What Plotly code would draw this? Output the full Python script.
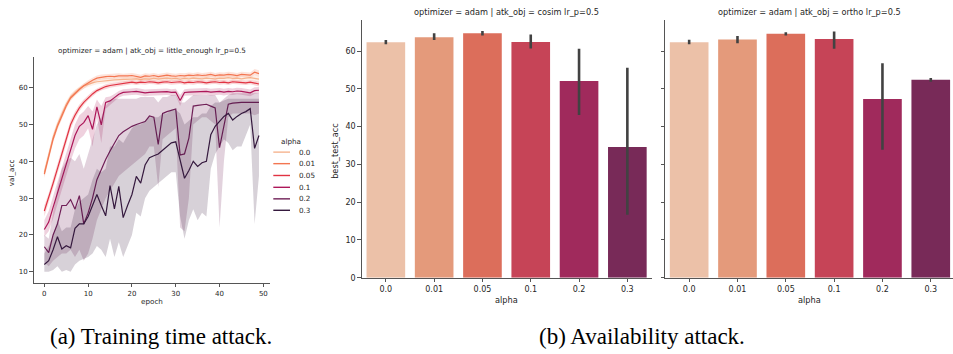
import plotly.graph_objects as go

# ---------------- data: (a) training time attack ----------------
epochs = list(range(50))
alpha_labels = ["0.0", "0.01", "0.05", "0.1", "0.2", "0.3"]
line_colors = ["#f6b48f", "#f37651", "#e13342", "#ad1759", "#701f57", "#35193e"]

val_00 = [37, 42, 46.5, 50, 53, 55.5, 57.5, 58.7, 59.7, 60.5, 61, 61.3, 61.6, 61.8, 62, 62, 62.1, 62.2, 62.3, 62.2,
          62.3, 62.4, 62.2, 62.4, 62.3, 62.5, 62.3, 62.4, 62.6, 62.4, 62.5, 62.3, 62.5, 62.4, 62.6, 62.5, 62.4, 62.6, 62.5, 62.4,
          62.6, 62.5, 62.7, 62.5, 62.6, 62.4, 62.6, 62.7, 62.5, 62.3]
lo_00 = [35.8, 40.5, 45.3, 49, 52, 54.6, 56.7, 58, 59, 59.8, 60.3, 60.6, 60.9, 61.1, 61.3, 61.3, 61.4, 61.5, 61.6, 61.5,
         61.6, 61.7, 61.5, 61.7, 61.6, 61.8, 61.6, 61.7, 61.9, 61.7, 61.8, 61.6, 61.8, 61.7, 61.9, 61.8, 61.7, 61.9, 61.8, 61.7,
         61.9, 61.8, 62, 61.8, 61.9, 61.7, 61.9, 62, 61.8, 61.6]
hi_00 = [38.2, 43.4, 47.7, 51, 54, 56.4, 58.3, 59.4, 60.4, 61.2, 61.7, 62, 62.3, 62.5, 62.7, 62.7, 62.8, 62.9, 63, 62.9,
         63, 63.1, 62.9, 63.1, 63, 63.2, 63, 63.1, 63.3, 63.1, 63.2, 63, 63.2, 63.1, 63.3, 63.2, 63.1, 63.3, 63.2, 63.1,
         63.3, 63.2, 63.4, 63.2, 63.3, 63.1, 63.3, 63.4, 63.2, 63]

val_01 = [36.5, 41.5, 46, 49.5, 52.5, 55, 57.2, 58.5, 59.5, 60.5, 61.3, 62, 62.6, 62.9, 63, 63.1, 63, 63.2, 63.1, 63.2,
          63.3, 63.1, 62.8, 63.2, 63.1, 63.3, 63, 63.2, 63.4, 63.2, 63.1, 63.3, 63.2, 63.4, 63.3, 63.5, 63.3, 63.4, 63.6, 63.3,
          63.5, 63.4, 63.6, 63.5, 63.3, 63.6, 63.5, 63.4, 64.2, 63.8]
lo_01 = [35.5, 40.6, 45, 48.6, 51.6, 54.2, 56.4, 57.8, 58.8, 59.8, 60.6, 61.3, 61.9, 62.2, 62.3, 62.4, 62.3, 62.5, 62.4, 62.5,
         62.6, 62.4, 62.1, 62.5, 62.4, 62.6, 62.3, 62.5, 62.7, 62.5, 62.4, 62.6, 62.5, 62.7, 62.6, 62.8, 62.6, 62.7, 62.9, 62.6,
         62.8, 62.7, 62.9, 62.8, 62.6, 62.9, 62.8, 62.7, 63.3, 62.9]
hi_01 = [37.5, 42.4, 47, 50.4, 53.4, 55.8, 58, 59.2, 60.2, 61.2, 62, 62.7, 63.3, 63.6, 63.7, 63.8, 63.7, 63.9, 63.8, 63.9,
         64, 63.8, 63.5, 63.9, 63.8, 64, 63.7, 63.9, 64.1, 63.9, 63.8, 64, 63.9, 64.1, 64, 64.2, 64, 64.1, 64.3, 64,
         64.2, 64.1, 64.3, 64.2, 64, 64.3, 64.2, 64.1, 65.1, 64.7]

val_05 = [26.5, 30, 34, 38, 42, 46, 50, 52.5, 54.5, 56, 57.3, 58.3, 59.2, 59.8, 60.3, 60.6, 60.8, 61, 61.2, 61.3,
          61.5, 61.3, 61.5, 61.4, 61.6, 61.5, 61.3, 61.5, 61.6, 61.4, 61.5, 61.6, 61.3, 61.5, 61.4, 61.6, 61.5, 61.3, 61.5, 61.6,
          61.4, 61.5, 61.3, 61.6, 61.5, 61.4, 61.3, 61.5, 61.2, 61.0]
lo_05 = [25, 28.7, 32.6, 36.6, 40.6, 44.6, 48.8, 51.5, 53.6, 55.2, 56.6, 57.6, 58.6, 59.2, 59.7, 60, 60.2, 60.4, 60.6, 60.7,
         60.9, 60.7, 60.9, 60.8, 61, 60.9, 60.7, 60.9, 61, 60.8, 60.9, 61, 60.7, 60.9, 60.8, 61, 60.9, 60.7, 60.9, 61,
         60.8, 60.9, 60.7, 61, 60.9, 60.8, 60.7, 60.9, 60.6, 60.3]
hi_05 = [28, 31.3, 35.4, 39.4, 43.4, 47.4, 51.2, 53.5, 55.4, 56.8, 58, 59, 59.8, 60.4, 60.9, 61.2, 61.4, 61.6, 61.8, 61.9,
         62.1, 61.9, 62.1, 62, 62.2, 62.1, 61.9, 62.1, 62.2, 62, 62.1, 62.2, 61.9, 62.1, 62, 62.2, 62.1, 61.9, 62.1, 62.2,
         62, 62.1, 61.9, 62.2, 62.1, 62, 61.9, 62.1, 61.8, 61.7]

val_10 = [21.5, 23.5, 27.5, 31.5, 35.5, 39.5, 43.5, 47, 49.5, 50.5, 52.4, 48.7, 54.8, 49.9, 56, 56.4, 57.3, 58.2, 58.7, 58.9,
          58.9, 59, 58.8, 58.6, 58.7, 58.8, 58.7, 58.8, 58.9, 58.7, 58.8, 56.5, 58.7, 58.8, 58.9, 58.8, 58.9, 59, 58.8, 58.9,
          59, 58.8, 59, 58.9, 59.1, 59, 58.9, 58.6, 59.2, 59.3]
lo_10 = [19.5, 21, 24.5, 28.5, 32.5, 36.5, 40, 43.5, 46, 47, 49, 44, 52, 45, 54.2, 55.3, 56.3, 57.3, 57.8, 58,
         58, 58.1, 57.9, 57.7, 57.8, 57.9, 57.8, 57.9, 58, 57.8, 57.9, 55, 57.8, 57.9, 58, 57.9, 58, 58.1, 57.9, 58,
         58.1, 57.9, 58.1, 58, 58.2, 58.1, 58, 57.7, 58.3, 58.4]
hi_10 = [24, 26.5, 30.5, 34.5, 38.5, 42.5, 46.5, 50, 52.5, 53.5, 55, 53.5, 56.8, 55, 57.4, 57.6, 58.3, 59.1, 59.6, 59.8,
         59.8, 59.9, 59.7, 59.5, 59.6, 59.7, 59.6, 59.7, 59.8, 59.6, 59.7, 58, 59.6, 59.7, 59.8, 59.7, 59.8, 59.9, 59.7, 59.8,
         59.9, 59.7, 59.9, 59.8, 60, 59.9, 59.8, 59.5, 60.1, 60.2]

val_20 = [16.8, 15.2, 20, 23, 28, 28, 29.6, 27, 30.7, 23, 26, 30, 35, 38, 40.5, 42.8, 45, 47, 48, 48.8,
          49.5, 50, 50.5, 50.8, 52.3, 52, 44.6, 53, 53.5, 53.8, 54.2, 41.7, 42, 46.3, 55, 55.2, 55.4, 55.5, 55, 54.5,
          43.7, 50, 55.5, 55.8, 56, 56, 56, 56, 55.8, 56]
lo_20 = [12.5, 11.5, 13, 14, 15, 15, 16, 14, 16, 13, 15, 19, 24, 27, 30, 32, 34, 36, 37, 38,
         39, 40, 41, 42, 44, 44, 33, 46, 47, 48, 49, 22, 21, 30, 50, 51, 52, 52, 51, 50,
         22, 40, 52, 53, 53, 53, 53, 53, 52.5, 53]
hi_20 = [20, 19, 26, 33, 38, 40, 41, 40, 42, 38, 42, 46, 50, 52, 55, 56.5, 57, 57, 57, 57,
         57, 57, 57.5, 57.5, 57.5, 57.5, 56, 57.5, 57.5, 58, 58, 56, 56, 57, 58, 58, 58, 58, 58, 58,
         56, 57, 58, 58.5, 58.5, 58.5, 58.5, 58.5, 58.5, 58.5]

val_30 = [12, 13, 16, 19.5, 16.2, 17.1, 16.5, 21.8, 23, 23, 25, 28, 31, 28, 25.2, 33.4, 27.1, 33.2, 24.7, 28,
          31, 35.9, 34.1, 39, 41, 41.5, 42, 43, 44, 45, 45.3, 40, 35.4, 37.5, 40, 38.6, 39.6, 40, 47.2, 49.5,
          51, 52.2, 53, 51.2, 52.2, 53, 53.5, 54.3, 43.5, 47]
lo_30 = [10, 10, 10.5, 11.5, 10, 10.5, 10, 12, 13, 13.5, 14, 15, 17, 16, 14, 19, 14, 18, 14, 17,
         20, 26, 25, 30, 32, 33, 34, 35, 36, 37, 37, 25, 19, 24, 27, 24, 26, 25, 38, 42,
         44, 46, 45, 43, 44, 44, 47, 50, 23, 36]
hi_30 = [15, 17, 20, 24, 21, 22, 22, 27, 29, 30, 31, 35, 38, 37, 38, 44, 44, 46, 45, 47,
         49, 50, 50, 51, 52, 52, 52, 53, 53, 54, 54, 53, 50, 51, 52, 52, 53, 53, 55, 56,
         56, 56.5, 57, 57, 57, 57, 57, 57, 57, 57]

# ---------------- data: (b) availability attack ----------------
bar_cats = ["0.0", "0.01", "0.05", "0.1", "0.2", "0.3"]
bar_colors = ["#ecc1a8", "#e49a7b", "#dc6e5b", "#c64457", "#a02a5c", "#782a58"]
cosim_mean = [62.35, 63.66, 64.7, 62.4, 52.1, 34.6]
cosim_lo = [61.8, 62.9, 64.1, 60.7, 43.05, 16.7]
cosim_hi = [62.9, 64.7, 65.3, 64.4, 60.6, 55.6]
ortho_mean = [62.35, 63.05, 64.6, 63.2, 47.3, 52.4]
ortho_lo = [61.8, 62.1, 64.1, 60.6, 33.9, 51.9]
ortho_hi = [63.0, 64.0, 65.0, 65.2, 56.8, 52.9]

W, H = 953, 354
FONT = "DejaVu Sans"
TXT = "#262626"
AXC = "#555555"


def px(x):
    return x / W


def py(y):
    return 1 - y / H


def rgba(hexc, a):
    h = hexc.lstrip("#")
    r, g, b = int(h[0:2], 16), int(h[2:4], 16), int(h[4:6], 16)
    return f"rgba({r},{g},{b},{a})"


fig = go.Figure()

series = [(val_00, lo_00, hi_00), (val_01, lo_01, hi_01), (val_05, lo_05, hi_05),
          (val_10, lo_10, hi_10), (val_20, lo_20, hi_20), (val_30, lo_30, hi_30)]
for (vals, lo, hi), col, lab in zip(series, line_colors, alpha_labels):
    fig.add_trace(go.Scatter(x=epochs, y=lo, mode="lines", line=dict(width=0, color=col),
                             showlegend=False, hoverinfo="skip", xaxis="x", yaxis="y"))
    fig.add_trace(go.Scatter(x=epochs, y=hi, mode="lines", line=dict(width=0, color=col),
                             fill="tonexty", fillcolor=rgba(col, 0.2),
                             showlegend=False, hoverinfo="skip", xaxis="x", yaxis="y"))
    fig.add_trace(go.Scatter(x=epochs, y=vals, mode="lines", line=dict(width=1.2, color=col),
                             name=lab, showlegend=False, xaxis="x", yaxis="y"))


def err(mean, lo, hi):
    return ([h - m for m, h in zip(mean, hi)], [m - l for m, l in zip(mean, lo)])


up, dn = err(cosim_mean, cosim_lo, cosim_hi)
fig.add_trace(go.Bar(x=bar_cats, y=cosim_mean, marker=dict(color=bar_colors, line=dict(width=0)),
                     error_y=dict(type="data", array=up, arrayminus=dn, color="#424242", thickness=2.6, width=0),
                     showlegend=False, xaxis="x2", yaxis="y2"))
up, dn = err(ortho_mean, ortho_lo, ortho_hi)
fig.add_trace(go.Bar(x=bar_cats, y=ortho_mean, marker=dict(color=bar_colors, line=dict(width=0)),
                     error_y=dict(type="data", array=up, arrayminus=dn, color="#424242", thickness=2.6, width=0),
                     showlegend=False, xaxis="x3", yaxis="y3"))

axis_common = dict(showline=True, linecolor=AXC, linewidth=1, ticks="outside", ticklen=3.5,
                   tickcolor=AXC, tickwidth=1, showgrid=False, zeroline=False, color=TXT)

fig.update_layout(
    width=W, height=H, margin=dict(l=0, r=0, t=0, b=0),
    paper_bgcolor="white", plot_bgcolor="white",
    font=dict(family=FONT, color=TXT),
    bargap=0.2, showlegend=False,
    xaxis=dict(domain=[px(33.6), px(269.7)], range=[-2.45, 51.45], tickvals=[0, 10, 20, 30, 40, 50],
               tickfont=dict(size=7), anchor="y", **axis_common),
    yaxis=dict(domain=[py(286.7), py(58.3)], range=[7.05, 68.2], tickvals=[10, 20, 30, 40, 50, 60],
               tickfont=dict(size=7), anchor="x", **axis_common),
    xaxis2=dict(domain=[px(361.7), px(651.5)], range=[-0.5, 5.5], type="category",
                tickfont=dict(size=8), anchor="y2", **axis_common),
    yaxis2=dict(domain=[py(281.7), py(20)], range=[0, 68.3], tickvals=[0, 10, 20, 30, 40, 50, 60],
                tickfont=dict(size=8), anchor="x2", **axis_common),
    xaxis3=dict(domain=[px(665), 1.0], range=[-0.5, 5.46], type="category",
                tickfont=dict(size=8), anchor="y3", **axis_common),
    yaxis3=dict(domain=[py(281.7), py(20)], range=[0, 68.3], tickvals=[0, 10, 20, 30, 40, 50, 60],
                showticklabels=False, anchor="x3", **axis_common),
)

ann = []


def text(x, y, s, size, angle=0, family=FONT, xanchor="center", color=TXT):
    ann.append(dict(x=px(x), y=py(y), xref="paper", yref="paper", text=s, showarrow=False,
                    font=dict(size=size, family=family, color=color), xanchor=xanchor, yanchor="middle",
                    textangle=angle))


# titles
text(151.7, 51.5, "optimizer = adam | atk_obj = little_enough lr_p=0.5", 7.2)
text(506.6, 12, "optimizer = adam | atk_obj = cosim lr_p=0.5", 8.2)
text(809.5, 12, "optimizer = adam | atk_obj = ortho lr_p=0.5", 8.2)
# axis titles
text(11.7, 175, "val_acc", 7.2, angle=-90)
text(151.7, 306, "epoch", 7.2)
text(335, 153, "best_test_acc", 8.2, angle=-90)
text(506.6, 304, "alpha", 8.2)
text(809.5, 304, "alpha", 8.2)
# legend
text(290.7, 144, "alpha", 7.2)
leg_y = [154.3, 166, 178, 190, 201.7, 213.3]
shapes = []
for yy, col, lab in zip(leg_y, line_colors, alpha_labels):
    shapes.append(dict(type="line", xref="paper", yref="paper", x0=px(273.3), x1=px(290), y0=py(yy), y1=py(yy),
                       line=dict(color=col, width=1.4)))
    text(296.5, yy, lab, 7.2, xanchor="left")
# captions
text(160.5, 341, "(a) Training time attack.", 23, family="Liberation Serif", color="#000000")
text(642, 341, "(b) Availability attack.", 23, family="Liberation Serif", color="#000000")

fig.update_layout(annotations=ann, shapes=shapes)
fig.write_html("out.html", config={"displayModeBar": False},
               post_script="document.body.style.margin='0';document.body.style.overflow='hidden';")
